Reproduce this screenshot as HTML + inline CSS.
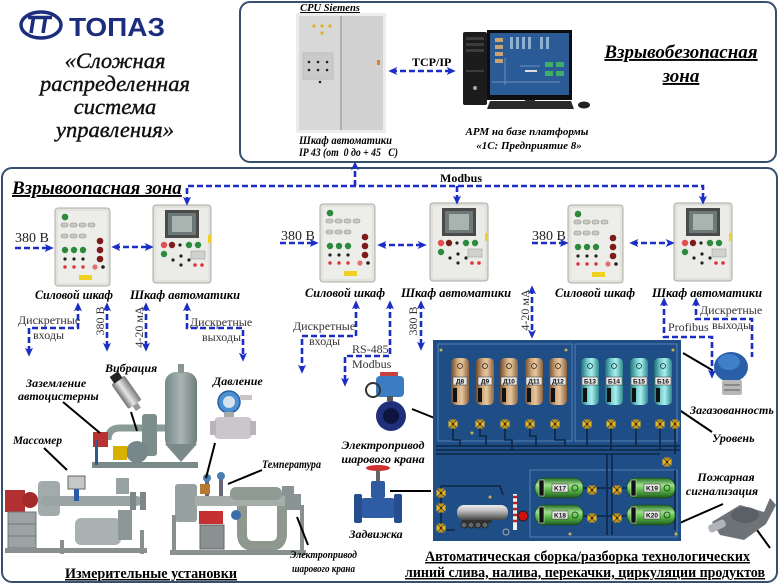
<!DOCTYPE html>
<html><head><meta charset="utf-8"><title>ТОПАЗ — распределенная система управления</title>
<style>
html,body{margin:0;padding:0;background:#fff;width:780px;height:585px;overflow:hidden}
svg{display:block}
</style></head><body>
<svg width="780" height="585" viewBox="0 0 780 585" xmlns="http://www.w3.org/2000/svg" font-family="Liberation Serif, serif">
<defs>
 <marker id="ah" viewBox="0 0 10 10" refX="7" refY="5" markerWidth="9" markerHeight="9" markerUnits="userSpaceOnUse" orient="auto-start-reverse">
  <path d="M0,0.5 L10,5 L0,9.5 L2.5,5 Z" fill="#1b2ec4"/>
 </marker>
 <linearGradient id="tD" x1="0" x2="1"><stop offset="0" stop-color="#6e4b2c"/><stop offset=".4" stop-color="#d8b185"/><stop offset=".6" stop-color="#e6c69c"/><stop offset="1" stop-color="#8a6240"/></linearGradient>
 <linearGradient id="tB" x1="0" x2="1"><stop offset="0" stop-color="#1f6f76"/><stop offset=".4" stop-color="#7fd6d6"/><stop offset=".6" stop-color="#aaeeee"/><stop offset="1" stop-color="#2d8a8e"/></linearGradient>
 <linearGradient id="tK" x1="0" y1="0" x2="0" y2="1"><stop offset="0" stop-color="#256b25"/><stop offset=".35" stop-color="#9ee08e"/><stop offset=".6" stop-color="#5abb48"/><stop offset="1" stop-color="#1f5a1f"/></linearGradient>
 <linearGradient id="st" x1="0" x2="1"><stop offset="0" stop-color="#6f6f6f"/><stop offset=".45" stop-color="#e6e6e6"/><stop offset="1" stop-color="#777"/></linearGradient>
 <linearGradient id="tr" x1="0" y1="0" x2="0" y2="1"><stop offset="0" stop-color="#eee"/><stop offset=".4" stop-color="#bbb"/><stop offset="1" stop-color="#444"/></linearGradient>
 <linearGradient id="gg" x1="0" x2="1"><stop offset="0" stop-color="#77878a"/><stop offset=".5" stop-color="#a9b5b3"/><stop offset="1" stop-color="#6f7d7c"/></linearGradient>

 <g id="pc">
  <rect x="0" y="0" width="55" height="78" rx="3" fill="#e3e3de" stroke="#aeaea8"/>
  <rect x="3" y="3" width="49" height="72" rx="2" fill="#ededea"/>
  <circle cx="10" cy="9" r="3.3" fill="#2c8a3c"/>
  <g fill="#c9c9c4" stroke="#8e8e8a" stroke-width=".6">
   <rect x="6" y="15" width="7" height="4" rx="2"/><rect x="15" y="15" width="7" height="4" rx="2"/><rect x="24" y="15" width="7" height="4" rx="2"/><rect x="33" y="15" width="7" height="4" rx="2"/>
   <rect x="6" y="26" width="7" height="4" rx="2"/><rect x="15" y="26" width="7" height="4" rx="2"/><rect x="24" y="26" width="7" height="4" rx="2"/>
  </g>
  <circle cx="10" cy="42" r="3.2" fill="#2c8a3c"/><circle cx="19" cy="42" r="3.2" fill="#2c8a3c"/><circle cx="28" cy="42" r="3.2" fill="#2c8a3c"/>
  <circle cx="45" cy="33" r="3.3" fill="#7d1a1a"/><circle cx="45" cy="42" r="3.3" fill="#7d1a1a"/><circle cx="45" cy="51" r="3.3" fill="#7d1a1a"/>
  <circle cx="10" cy="51" r="1.6" fill="#222"/><circle cx="19" cy="51" r="1.6" fill="#222"/><circle cx="28" cy="51" r="1.6" fill="#222"/>
  <circle cx="10" cy="59" r="1.7" fill="#d33"/><circle cx="19" cy="59" r="1.7" fill="#d33"/><circle cx="28" cy="59" r="1.7" fill="#d33"/>
  <circle cx="40" cy="59" r="2.6" fill="#e07070"/><circle cx="48" cy="59" r="1.8" fill="#222"/>
  <rect x="24" y="67" width="13" height="5" fill="#f0d020"/>
 </g>

 <g id="ac">
  <rect x="0" y="0" width="58" height="78" rx="3" fill="#e1e1dd" stroke="#a9a9a4"/>
  <rect x="3" y="3" width="52" height="72" rx="2" fill="#ebebe7"/>
  <rect x="12" y="5" width="34" height="28" fill="#4a4a4a"/>
  <rect x="15" y="8" width="28" height="22" fill="#6d7878"/>
  <rect x="19" y="11" width="20" height="16" fill="#a9b4b1"/>
  <circle cx="11" cy="40" r="3.2" fill="#e05050"/><circle cx="19" cy="40" r="3.2" fill="#7d1a1a"/><circle cx="27" cy="40" r="1.6" fill="#222"/>
  <circle cx="36" cy="40" r="3.2" fill="#2c8a3c"/><circle cx="45" cy="40" r="3.2" fill="#2c8a3c"/>
  <circle cx="11" cy="49" r="3.2" fill="#2c8a3c"/>
  <circle cx="20" cy="55" r="1.6" fill="#222"/><circle cx="28" cy="51" r="1.6" fill="#222"/><circle cx="28" cy="60" r="1.6" fill="#222"/><circle cx="36" cy="55" r="1.6" fill="#222"/>
  <rect x="38" y="46" width="14" height="8" fill="#d0d0cc" stroke="#999" stroke-width=".5"/>
  <circle cx="42" cy="60" r="1.8" fill="#d33"/><circle cx="49" cy="60" r="1.8" fill="#d33"/>
  <rect x="55" y="30" width="3" height="8" fill="#f0d020"/>
 </g>

 <g id="v">
  <path d="M-4.5,-3.5 L0,0 L-4.5,3.5 Z M4.5,-3.5 L0,0 L4.5,3.5 Z" fill="#e9b51c"/>
  <path d="M-3.5,-4.5 L0,0 L3.5,-4.5 Z M-3.5,4.5 L0,0 L3.5,4.5 Z" fill="#c8900e"/>
  <circle r="1.3" fill="#3a2a00"/>
 </g>
</defs>

<!-- ===== top left logo & caption ===== -->
<ellipse cx="41" cy="25" rx="20" ry="13" fill="none" stroke="#1b2d7c" stroke-width="3.5"/>
<path d="M28,17.5 H41 M33.5,17.5 L31,33 M39,17.5 H52 M45.5,17.5 L43,33" stroke="#1b2d7c" stroke-width="3.6" fill="none"/>
<text x="69" y="36" font-family="Liberation Sans, sans-serif" font-weight="bold" font-size="26" fill="#1b2d7c" textLength="96" lengthAdjust="spacingAndGlyphs">ТОПАЗ</text>

<g font-style="italic" font-size="22.5" fill="#111" stroke="#111" stroke-width=".4" text-anchor="middle">
 <text x="115" y="68">«Сложная</text>
 <text x="115" y="91">распределенная</text>
 <text x="115" y="114">система</text>
 <text x="115" y="137">управления»</text>
</g>

<!-- ===== top (safe) zone ===== -->
<rect x="240" y="2" width="536" height="160" rx="10" fill="#fff" stroke="#34506e" stroke-width="2"/>
<text x="330" y="11" font-size="10.5" font-weight="bold" font-style="italic" text-anchor="middle" text-decoration="underline">CPU Siemens</text>
<!-- cabinet -->
<rect x="296" y="13" width="90" height="120" fill="#ececec"/>
<rect x="299" y="16" width="84" height="114" fill="#d2d2d2"/>
<rect x="299" y="16" width="42" height="114" fill="#d8d8d8"/>
<line x1="341" y1="16" x2="341" y2="130" stroke="#8a8a8a"/>
<circle cx="314" cy="26" r="1.6" fill="#e0b020"/><circle cx="322" cy="26" r="1.6" fill="#e0b020"/><circle cx="330" cy="26" r="1.6" fill="#e0b020"/><circle cx="322" cy="33" r="1.6" fill="#e0b020"/>
<rect x="303" y="53" width="30" height="26" fill="#cacaca" stroke="#bdbdbd"/>
<circle cx="309" cy="62" r="1.3" fill="#222"/><circle cx="318" cy="62" r="1.3" fill="#222"/><circle cx="327" cy="62" r="1.3" fill="#222"/>
<circle cx="309" cy="70" r="1.3" fill="#222"/><circle cx="318" cy="70" r="1.3" fill="#222"/><circle cx="327" cy="70" r="1.3" fill="#222"/>
<circle cx="320" cy="82" r="1.3" fill="#222"/>
<rect x="377" y="60" width="3" height="5" fill="#e08020"/>
<text x="299" y="144" font-size="12" font-weight="bold" font-style="italic" textLength="93" lengthAdjust="spacingAndGlyphs">Шкаф автоматики</text>
<text x="299" y="156" font-size="12" font-weight="bold" font-style="italic" xml:space="preserve" textLength="99" lengthAdjust="spacingAndGlyphs">IP 43 (от  0 до + 45   С)</text>

<text x="412" y="66" font-size="12" font-weight="bold">TCP/IP</text>
<line x1="391" y1="71" x2="453" y2="71" stroke="#1b2ec4" stroke-width="2.6" stroke-dasharray="6 3" marker-start="url(#ah)" marker-end="url(#ah)"/>

<!-- computer -->
<rect x="463" y="32" width="24" height="73" rx="2" fill="#1c1c1c"/>
<rect x="466" y="37" width="18" height="3" fill="#3c3c3c"/><rect x="466" y="43" width="18" height="3" fill="#3c3c3c"/><rect x="466" y="49" width="18" height="3" fill="#3c3c3c"/>
<rect x="466" y="70" width="18" height="2" fill="#3c3c3c"/>
<circle cx="475" cy="88" r="2" fill="#9ab"/>
<rect x="487" y="30" width="85" height="70" fill="#0e0e0e"/>
<rect x="490" y="33" width="79" height="62" fill="#2a5b96"/>
<g fill="#c9a472"><rect x="495" y="38" width="8" height="4"/><rect x="495" y="45" width="8" height="4"/><rect x="495" y="52" width="8" height="4"/><rect x="495" y="59" width="8" height="4"/></g>
<g fill="#8fb0d0"><rect x="510" y="37" width="3" height="12"/><rect x="516" y="37" width="3" height="12"/><rect x="522" y="37" width="3" height="12"/><rect x="528" y="37" width="3" height="12"/><rect x="540" y="37" width="3" height="12"/><rect x="546" y="37" width="3" height="12"/></g>
<g fill="#3fae6a"><rect x="545" y="62" width="8" height="5"/><rect x="556" y="62" width="8" height="5"/><rect x="545" y="71" width="8" height="5"/><rect x="556" y="71" width="8" height="5"/></g>
<rect x="525" y="70" width="12" height="2" fill="#ddd"/>
<path d="M492,82 H560 M505,58 V85 M520,66 H540" stroke="#6d92bd" stroke-width="1"/>
<rect x="525" y="100" width="10" height="2" fill="#333"/>
<path d="M490,101 L571,101 L574,109 L487,109 Z" fill="#2a2a2a"/>
<ellipse cx="584" cy="105" rx="6" ry="3.5" fill="#222"/>
<text x="527" y="135" font-size="11" font-weight="bold" font-style="italic" text-anchor="middle">АРМ на базе платформы</text>
<text x="529" y="149" font-size="11" font-weight="bold" font-style="italic" text-anchor="middle">«1С: Предприятие 8»</text>

<text x="681" y="58" font-size="19" font-weight="bold" font-style="italic" text-anchor="middle" text-decoration="underline">Взрывобезопасная</text>
<text x="681" y="82" font-size="19" font-weight="bold" font-style="italic" text-anchor="middle" text-decoration="underline">зона</text>

<!-- ===== main (hazard) zone ===== -->
<rect x="2" y="168" width="775" height="414" rx="10" fill="none" stroke="#34506e" stroke-width="2"/>
<text x="12" y="194" font-size="19" font-weight="bold" font-style="italic" text-decoration="underline">Взрывоопасная зона</text>
<text x="440" y="182" font-size="12" font-weight="bold">Modbus</text>

<!-- cabinets -->
<use href="#pc" x="55" y="208"/>
<use href="#ac" x="153" y="205"/>
<use href="#pc" x="320" y="204"/>
<use href="#ac" x="430" y="203"/>
<use href="#pc" x="568" y="205"/>
<use href="#ac" x="674" y="203"/>

<g font-size="13" font-weight="bold" font-style="italic" lengthAdjust="spacingAndGlyphs">
 <text x="35" y="299" textLength="78" lengthAdjust="spacingAndGlyphs">Силовой шкаф</text>
 <text x="130" y="299" textLength="110" lengthAdjust="spacingAndGlyphs">Шкаф автоматики</text>
 <text x="305" y="297" textLength="80" lengthAdjust="spacingAndGlyphs">Силовой шкаф</text>
 <text x="401" y="297" textLength="110" lengthAdjust="spacingAndGlyphs">Шкаф автоматики</text>
 <text x="555" y="297" textLength="80" lengthAdjust="spacingAndGlyphs">Силовой шкаф</text>
 <text x="652" y="297" textLength="110" lengthAdjust="spacingAndGlyphs">Шкаф автоматики</text>
</g>

<g font-size="14" fill="#222">
 <text x="15" y="242">380 В</text>
 <text x="281" y="240">380 В</text>
 <text x="532" y="240">380 В</text>
</g>
<g font-size="12" fill="#333">
 <text x="18" y="324">Дискретные</text>
 <text x="33" y="339">входы</text>
 <text x="190" y="326">Дискретные</text>
 <text x="202" y="341">выходы</text>
 <text x="293" y="330">Дискретные</text>
 <text x="309" y="345">входы</text>
 <text x="352" y="353">RS-485</text>
 <text x="352" y="368">Modbus</text>
 <text x="668" y="331">Profibus</text>
 <text x="700" y="314">Дискретные</text>
 <text x="712" y="329">выходы</text>
 <text transform="translate(104,321) rotate(-90)" text-anchor="middle">380 В</text>
 <text transform="translate(143,327) rotate(-90)" text-anchor="middle">4-20 мА</text>
 <text transform="translate(417,321) rotate(-90)" text-anchor="middle">380 В</text>
 <text transform="translate(529,310) rotate(-90)" text-anchor="middle">4-20 мА</text>
</g>

<!-- dashed connectors -->
<g fill="none" stroke="#1b2ec4" stroke-width="2.6" stroke-dasharray="6 3">
 <path d="M187,203 V186 H703 V202" marker-start="url(#ah)" marker-end="url(#ah)"/>
 <path d="M457,186 V202" marker-end="url(#ah)"/>
 <path d="M355,186 V164" marker-end="url(#ah)"/>
 <path d="M15,248 H51" marker-end="url(#ah)"/>
 <path d="M114,247 H151" marker-start="url(#ah)" marker-end="url(#ah)"/>
 <path d="M78,305 V328 H29 V354" marker-start="url(#ah)" marker-end="url(#ah)"/>
 <path d="M107,305 V349" marker-start="url(#ah)" marker-end="url(#ah)"/>
 <path d="M146,305 V349" marker-start="url(#ah)" marker-end="url(#ah)"/>
 <path d="M187,305 V328 H243 V359" marker-start="url(#ah)" marker-end="url(#ah)"/>
 <path d="M280,243 H316" marker-end="url(#ah)"/>
 <path d="M380,245 H424" marker-start="url(#ah)" marker-end="url(#ah)"/>
 <path d="M356,303 V336 H302 V371" marker-start="url(#ah)" marker-end="url(#ah)"/>
 <path d="M390,303 V356 H345 V384" marker-start="url(#ah)" marker-end="url(#ah)"/>
 <path d="M421,303 V348" marker-start="url(#ah)" marker-end="url(#ah)"/>
 <path d="M532,243 H566" marker-end="url(#ah)"/>
 <path d="M632,243 H672" marker-start="url(#ah)" marker-end="url(#ah)"/>
 <path d="M532,288 V336" marker-start="url(#ah)" marker-end="url(#ah)"/>
 <path d="M664,300 V337 H712 V376" marker-start="url(#ah)" marker-end="url(#ah)"/>
 <path d="M696,300 V319 H752 V357" marker-start="url(#ah)"/>
</g>

<!-- ===== measuring installations (bottom-left) ===== -->
<g transform="translate(127,393) rotate(-35)">
 <rect x="-8" y="-16" width="16" height="30" rx="2" fill="url(#st)"/>
 <rect x="-5" y="-23" width="10" height="8" fill="#222"/>
 <rect x="-3" y="14" width="6" height="6" fill="#999"/>
</g>
<rect x="165" y="372" width="32" height="78" rx="11" fill="url(#gg)"/>
<path d="M165,444 L181,462 L197,444 Z" fill="#7b8a88"/>
<rect x="178" y="364" width="6" height="9" fill="#8a9694"/>
<path d="M108,440 q0,-12 12,-12 h45" stroke="#8a9a96" stroke-width="7" fill="none"/>
<rect x="142" y="414" width="15" height="42" rx="3" fill="#7d8d8a"/>
<circle cx="137" cy="452" r="11" fill="#78888a"/>
<rect x="93" y="432" width="15" height="15" fill="#b83232"/>
<rect x="113" y="446" width="14" height="14" fill="#d8b000"/>
<rect x="92" y="462" width="106" height="6" fill="#7a8a88"/>
<rect x="95" y="440" width="3" height="25" fill="#2c5a90"/>
<!-- massomer installation -->
<rect x="5" y="490" width="20" height="22" fill="#b33030"/>
<circle cx="30" cy="500" r="8" fill="#a52a2a"/>
<rect x="8" y="512" width="28" height="36" fill="#9ca3a3" stroke="#6f7777"/>
<line x1="8" y1="524" x2="36" y2="524" stroke="#6f7777"/><line x1="8" y1="536" x2="36" y2="536" stroke="#6f7777"/>
<rect x="38" y="481" width="22" height="35" rx="4" fill="#a2abab"/>
<rect x="40" y="496" width="102" height="10" rx="5" fill="#9aa4a4"/>
<rect x="68" y="476" width="17" height="13" fill="#c4c8c8" stroke="#666"/>
<rect x="74" y="489" width="5" height="12" fill="#2a5ca8"/>
<rect x="116" y="478" width="13" height="16" fill="#98a2a2"/>
<rect x="130" y="492" width="6" height="18" fill="#7d8787"/><rect x="140" y="492" width="6" height="18" fill="#7d8787"/>
<rect x="75" y="518" width="46" height="27" rx="6" fill="#aab1b1"/>
<rect x="118" y="510" width="14" height="30" fill="#8d9797"/>
<rect x="5" y="548" width="142" height="5" fill="#8a9090"/>
<rect x="60" y="540" width="4" height="14" fill="#8a9090"/><rect x="140" y="530" width="4" height="24" fill="#8a9090"/>
<!-- pressure transmitter -->
<circle cx="229" cy="402" r="11" fill="#4b90d2" stroke="#2a5f9f" stroke-width="1.5"/>
<circle cx="229" cy="402" r="6" fill="#d5e3ee"/>
<rect x="240" y="395" width="12" height="5" fill="#c8c4c8"/>
<rect x="224" y="412" width="10" height="6" fill="#aaa"/>
<rect x="214" y="417" width="38" height="22" rx="5" fill="#cbc6cc"/>
<rect x="210" y="421" width="6" height="14" fill="#b9b4ba"/><rect x="250" y="421" width="6" height="14" fill="#b9b4ba"/>
<!-- second installation -->
<rect x="175" y="484" width="22" height="38" rx="3" fill="#98a1a1"/>
<rect x="195" y="496" width="106" height="10" fill="#a6aeac"/>
<rect x="205" y="476" width="4" height="20" fill="#667"/><rect x="219" y="474" width="4" height="22" fill="#667"/>
<circle cx="207" cy="478" r="4" fill="#4a7fb0"/><circle cx="221" cy="476" r="4" fill="#4a7fb0"/>
<rect x="200" y="484" width="10" height="10" fill="#b57a30"/>
<rect x="230" y="487" width="52" height="13" rx="6" fill="#8f9a92"/>
<path d="M242,506 v28 q0,12 12,12 h16 q12,0 12,-12 v-28" stroke="#8e988f" stroke-width="10" fill="none"/>
<circle cx="236" cy="515" r="5" fill="#3a6ea8"/>
<rect x="199" y="511" width="24" height="13" fill="#c73030"/>
<rect x="200" y="525" width="24" height="24" fill="#8b9090" stroke="#666"/>
<rect x="282" y="486" width="12" height="10" fill="#8a9494"/>
<rect x="285" y="494" width="16" height="16" fill="#8a9494"/>
<rect x="170" y="550" width="136" height="5" fill="#8a9090"/>
<rect x="172" y="515" width="4" height="38" fill="#8a9090"/><rect x="300" y="505" width="4" height="48" fill="#8a9090"/>
<!-- leader lines -->
<g stroke="#000" stroke-width="2">
 <line x1="131" y1="412" x2="137" y2="431"/>
 <line x1="63" y1="402" x2="100" y2="433"/>
 <line x1="44" y1="448" x2="67" y2="470"/>
 <line x1="215" y1="443" x2="206" y2="478"/>
 <line x1="228" y1="484" x2="262" y2="470"/>
 <line x1="297" y1="517" x2="308" y2="545"/>
 <line x1="412" y1="409" x2="447" y2="423"/>
 <line x1="390" y1="491" x2="431" y2="491"/>
 <line x1="683" y1="353" x2="712" y2="370"/>
 <line x1="663" y1="399" x2="712" y2="432"/>
 <line x1="666" y1="529" x2="723" y2="504"/>
 <line x1="757" y1="530" x2="770" y2="548"/>
</g>
<g font-size="12" font-weight="bold" font-style="italic">
 <text x="105" y="372">Вибрация</text>
 <text x="26" y="387">Заземление</text>
 <text x="18" y="400">автоцистерны</text>
 <text x="13" y="444" textLength="49" lengthAdjust="spacingAndGlyphs">Массомер</text>
 <text x="213" y="385">Давление</text>
 <text x="262" y="468" textLength="59" lengthAdjust="spacingAndGlyphs">Температура</text>
 <text x="383" y="449" text-anchor="middle">Электропривод</text>
 <text x="383" y="463" text-anchor="middle">шарового крана</text>
 <text x="376" y="538" text-anchor="middle">Задвижка</text>
 <text x="690" y="414">Загазованность</text>
 <text x="712" y="442">Уровень</text>
 <text x="726" y="481" text-anchor="middle">Пожарная</text>
 <text x="722" y="495" text-anchor="middle">сигнализация</text>
</g>
<g font-size="11" font-weight="bold" font-style="italic">
 <text x="290" y="558" textLength="67" lengthAdjust="spacingAndGlyphs">Электропривод</text>
 <text x="292" y="572" textLength="63" lengthAdjust="spacingAndGlyphs">шарового крана</text>
</g>
<text x="65" y="578" font-size="15" font-weight="bold" text-decoration="underline" textLength="172" lengthAdjust="spacingAndGlyphs">Измерительные установки</text>

<!-- butterfly valve w/ actuator -->
<rect x="380" y="372" width="18" height="5" rx="1" fill="#c84040"/>
<rect x="376" y="376" width="28" height="21" rx="4" fill="#3a7dc2"/>
<circle cx="373" cy="390" r="7" fill="none" stroke="#333" stroke-width="2"/>
<rect x="387" y="396" width="6" height="5" fill="#555"/>
<circle cx="391" cy="416" r="15" fill="#1f2f7a"/>
<circle cx="391" cy="416" r="8" fill="#0e1440"/>
<!-- gate valve -->
<ellipse cx="378" cy="468" rx="12" ry="3" fill="#d03030"/>
<rect x="376" y="470" width="4" height="12" fill="#666"/>
<rect x="371" y="481" width="14" height="17" rx="2" fill="#2e5aa2"/>
<rect x="358" y="498" width="40" height="20" rx="7" fill="#2f5da5"/>
<rect x="354" y="494" width="8" height="29" rx="2" fill="#264d8f"/>
<rect x="394" y="494" width="8" height="29" rx="2" fill="#264d8f"/>

<!-- ===== SCADA panel ===== -->
<rect x="433" y="340" width="248" height="201" fill="#1f4e87"/>
<g fill="none" stroke="#5f8dbf" stroke-width=".8">
 <rect x="438" y="344" width="134" height="97"/>
 <rect x="575" y="344" width="102" height="97"/>
 <rect x="530" y="470" width="147" height="67"/>
</g>
<g stroke="#0d2647" stroke-width="1.6" fill="none">
 <path d="M436,446 H680 M436,450 H680 M436,454 H660"/>
 <path d="M453,424 V440 H460 V446 M480,424 V436 H486 V446 M505,424 V440 H512 V450 M530,424 V436 H536 V446 M555,424 V440 H565 V446"/>
 <path d="M587,424 V446 M611,424 V450 M636,424 V446 M660,424 V450 M675,424 V454"/>
 <path d="M607,454 V535 M612,454 V535 M675,470 V530"/>
 <path d="M441,486 H500 L503,495 M441,486 V530 H455"/>
 <path d="M583,488 H627 M583,516 H627"/>
</g>
<g>
 <rect x="451" y="358" width="18" height="47" rx="5" fill="url(#tD)"/>
 <rect x="476" y="358" width="18" height="47" rx="5" fill="url(#tD)"/>
 <rect x="500" y="358" width="18" height="47" rx="5" fill="url(#tD)"/>
 <rect x="525" y="358" width="18" height="47" rx="5" fill="url(#tD)"/>
 <rect x="549" y="358" width="18" height="47" rx="5" fill="url(#tD)"/>
 <rect x="581" y="358" width="18" height="47" rx="5" fill="url(#tB)"/>
 <rect x="605" y="358" width="18" height="47" rx="5" fill="url(#tB)"/>
 <rect x="630" y="358" width="18" height="47" rx="5" fill="url(#tB)"/>
 <rect x="654" y="358" width="18" height="47" rx="5" fill="url(#tB)"/>
</g>
<g fill="#111">
 <rect x="453" y="388" width="4" height="14"/><rect x="478" y="388" width="4" height="14"/><rect x="502" y="388" width="4" height="14"/><rect x="527" y="388" width="4" height="14"/><rect x="551" y="388" width="4" height="14"/>
 <rect x="583" y="388" width="4" height="14"/><rect x="607" y="388" width="4" height="14"/><rect x="632" y="388" width="4" height="14"/><rect x="656" y="388" width="4" height="14"/>
</g>
<g fill="none" stroke="#222" stroke-width=".7">
 <circle cx="460" cy="366" r="2.5"/><circle cx="485" cy="366" r="2.5"/><circle cx="509" cy="366" r="2.5"/><circle cx="534" cy="366" r="2.5"/><circle cx="558" cy="366" r="2.5"/>
 <circle cx="590" cy="366" r="2.5"/><circle cx="614" cy="366" r="2.5"/><circle cx="639" cy="366" r="2.5"/><circle cx="663" cy="366" r="2.5"/>
</g>
<g fill="#e6e6e6" stroke="#333" stroke-width=".5">
 <rect x="453" y="377" width="14" height="8"/><rect x="478" y="377" width="14" height="8"/><rect x="501" y="377" width="16" height="8"/><rect x="526" y="377" width="16" height="8"/><rect x="550" y="377" width="16" height="8"/>
 <rect x="582" y="377" width="16" height="8"/><rect x="606" y="377" width="16" height="8"/><rect x="631" y="377" width="16" height="8"/><rect x="655" y="377" width="16" height="8"/>
</g>
<g font-family="Liberation Sans, sans-serif" font-size="6.5" font-weight="bold" text-anchor="middle" fill="#111">
 <text x="460" y="383.5">Д8</text><text x="485" y="383.5">Д9</text><text x="509" y="383.5">Д10</text><text x="534" y="383.5">Д11</text><text x="558" y="383.5">Д12</text>
 <text x="590" y="383.5">Б13</text><text x="614" y="383.5">Б14</text><text x="639" y="383.5">Б15</text><text x="663" y="383.5">Б16</text>
</g>
<g fill="#c9b050"><circle cx="441" cy="350" r="1.5"/><circle cx="566" cy="350" r="1.5"/><circle cx="673" cy="350" r="1.5"/><circle cx="472" cy="433" r="1.5"/><circle cx="490" cy="497" r="1.5"/><circle cx="570" cy="534" r="1.5"/><circle cx="676" cy="534" r="1.5"/></g>
<use href="#v" x="453" y="424"/><use href="#v" x="480" y="424"/><use href="#v" x="505" y="424"/><use href="#v" x="530" y="424"/><use href="#v" x="555" y="424"/>
<use href="#v" x="587" y="424"/><use href="#v" x="611" y="424"/><use href="#v" x="636" y="424"/><use href="#v" x="660" y="424"/><use href="#v" x="675" y="424"/>
<use href="#v" x="667" y="462"/>
<use href="#v" x="592" y="490"/><use href="#v" x="617" y="490"/><use href="#v" x="592" y="518"/><use href="#v" x="617" y="518"/>
<use href="#v" x="441" y="493"/><use href="#v" x="441" y="508"/><use href="#v" x="441" y="528"/>
<g stroke="#173f17" stroke-width=".6">
 <rect x="535" y="478" width="48" height="20" rx="9" fill="url(#tK)"/>
 <rect x="535" y="505" width="48" height="20" rx="9" fill="url(#tK)"/>
 <rect x="627" y="478" width="48" height="20" rx="9" fill="url(#tK)"/>
 <rect x="627" y="505" width="48" height="20" rx="9" fill="url(#tK)"/>
</g>
<g fill="#111" stroke="#ddd" stroke-width=".6">
 <rect x="539" y="480" width="5" height="16"/><rect x="539" y="507" width="5" height="16"/><rect x="631" y="480" width="5" height="16"/><rect x="631" y="507" width="5" height="16"/>
</g>
<g fill="#e6e6e6" stroke="#333" stroke-width=".5">
 <rect x="552" y="484" width="16" height="8"/><rect x="552" y="511" width="16" height="8"/><rect x="644" y="484" width="16" height="8"/><rect x="644" y="511" width="16" height="8"/>
</g>
<g font-family="Liberation Sans, sans-serif" font-size="6.5" font-weight="bold" text-anchor="middle" fill="#111">
 <text x="560" y="490.5">K17</text><text x="560" y="517.5">K18</text><text x="652" y="490.5">K19</text><text x="652" y="517.5">K20</text>
</g>
<g fill="none" stroke="#143814" stroke-width=".8"><circle cx="575" cy="488" r="3"/><circle cx="575" cy="515" r="3"/><circle cx="667" cy="488" r="3"/><circle cx="667" cy="515" r="3"/></g>
<rect x="457" y="505" width="51" height="15" rx="7" fill="url(#tr)"/>
<rect x="462" y="520" width="30" height="3" fill="#333"/>
<circle cx="464" cy="525" r="3" fill="#666" stroke="#222"/><circle cx="471" cy="525" r="3" fill="#666" stroke="#222"/><circle cx="478" cy="525" r="3" fill="#666" stroke="#222"/><circle cx="485" cy="525" r="3" fill="#666" stroke="#222"/>
<rect x="513" y="494" width="4" height="36" fill="#eee"/>
<path d="M513,497 h4 M513,503 h4 M513,509 h4 M513,515 h4 M513,521 h4" stroke="#c02020" stroke-width="2.5"/>
<circle cx="506" cy="532" r="3" fill="none" stroke="#aaa"/>
<circle cx="523" cy="516" r="5" fill="#d01010" stroke="#222"/>

<!-- gas detector -->
<ellipse cx="731" cy="367" rx="17" ry="15" fill="#2a5fa8"/>
<ellipse cx="729" cy="362" rx="11" ry="8" fill="#3f7fca"/>
<rect x="722" y="380" width="20" height="15" rx="2" fill="#b8b8b8"/>
<rect x="724" y="384" width="16" height="2" fill="#888"/><rect x="724" y="389" width="16" height="2" fill="#888"/>
<!-- fire detector -->
<path d="M712,522 L740,505 L764,512 L770,498 L776,505 L766,524 L744,540 L720,535 Z" fill="#6e7378"/>
<ellipse cx="745" cy="515" rx="14" ry="8" fill="#5a6066"/>
<rect x="708" y="522" width="18" height="8" rx="3" fill="#b0b4b8" transform="rotate(-25 717 526)"/>

<text x="425" y="561" font-size="14.5" font-weight="bold" text-decoration="underline" textLength="325" lengthAdjust="spacingAndGlyphs">Автоматическая сборка/разборка технологических</text>
<text x="405" y="577" font-size="14.5" font-weight="bold" text-decoration="underline" textLength="360" lengthAdjust="spacingAndGlyphs">линий слива, налива, перекачки, циркуляции продуктов</text>
</svg>
</body></html>
